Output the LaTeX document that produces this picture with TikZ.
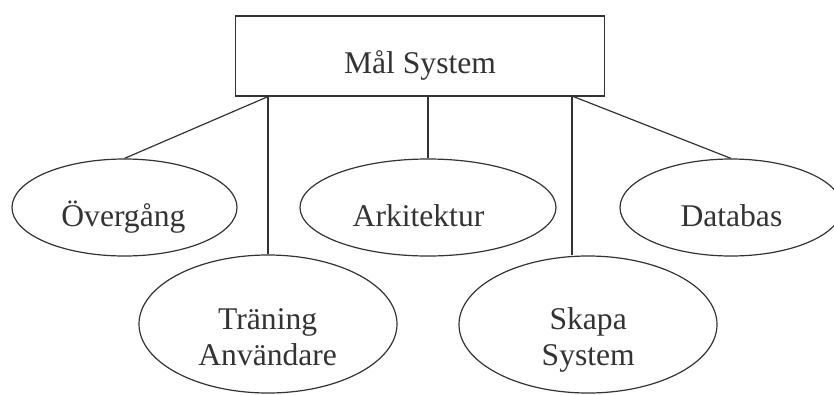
\documentclass[tikz,border=0pt]{standalone}
\usepackage{fontspec}
\setmainfont{Liberation Serif}
\usetikzlibrary{shapes.geometric}
\definecolor{ink}{HTML}{333333}
\begin{document}
\begin{tikzpicture}[x=1pt,y=-1pt,
  box/.style={draw=ink,line width=1.2pt,rectangle,inner sep=0pt},
  oval/.style={draw=ink,line width=1.2pt,ellipse,inner sep=0pt},
  lbl/.style={text=ink,font=\fontsize{31.6}{36.7}\selectfont,inner sep=0pt,anchor=base,align=center},
  link/.style={draw=ink,line width=1.2pt}]
\useasboundingbox (0,0) rectangle (834,394);
\clip (0,0) rectangle (834,394);
\node[box,minimum width=369pt,minimum height=80pt] (goal) at (420,56) {};
\node[oval,minimum width=225pt,minimum height=97pt] (ov) at (124.5,207.5) {};
\node[oval,minimum width=256pt,minimum height=97pt] (ark) at (428,207.5) {};
\node[oval,minimum width=222pt,minimum height=97pt] (db) at (731,207.5) {};
\node[oval,minimum width=258pt,minimum height=138pt] (tr) at (268,324) {};
\node[oval,minimum width=258pt,minimum height=137pt] (sk) at (588,324.5) {};
\node[lbl] (tgoal) at (420,73.3) {Mål System};
\node[lbl] (tov) at (123.4,226.7) {Övergång};
\node[lbl] (tark) at (418.5,226.7) {Arkitektur};
\node[lbl] (tdb) at (731.4,226.7) {Databas};
\node[lbl] (ttr) at (267.7,365.7) {Träning\\Användare};
\node[lbl] (tsk) at (588.2,365.7) {Skapa\\System};
\coordinate (p1) at (goal.south -| tr.north);
\coordinate (p3) at (goal.south -| ark.north);
\coordinate (p4) at (572,96);
\draw[link] (p1) -- (ov.north);
\draw[link] (p1) -- (tr.north);
\draw[link] (p3) -- (ark.north);
\draw[link] (p4) -- (p4 |- sk.north);
\draw[link] (p4) -- (db.north);
\end{tikzpicture}
\end{document}
